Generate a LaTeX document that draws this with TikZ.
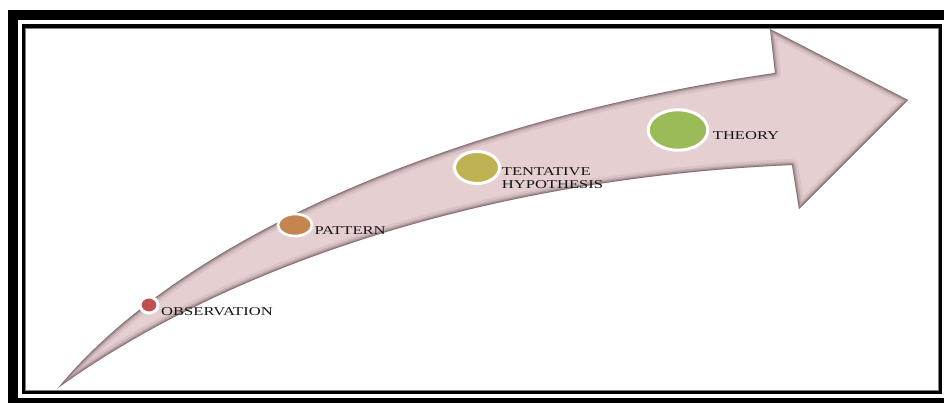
\documentclass[tikz,border=0pt]{standalone}
\usepackage{fontspec}
\usetikzlibrary{shapes.geometric}
\newfontfamily\lbl[FakeStretch=1.38]{Liberation Serif}
\definecolor{arrowpink}{RGB}{230,207,209}
\definecolor{rimshade}{RGB}{70,50,55}
\definecolor{obsred}{RGB}{192,80,77}
\definecolor{patbrown}{RGB}{196,134,78}
\definecolor{tentolive}{RGB}{191,178,82}
\definecolor{theogreen}{RGB}{155,187,89}
\definecolor{labelc}{RGB}{20,20,20}
\begin{document}
\begin{tikzpicture}[x=1pt,y=-1pt,
  arrowshape/.style={insert path={(58,388) .. controls (180,240) and (450,120) .. (775,73)
     -- (770,29) -- (908,100) -- (799,209) -- (792,165)
     .. controls (450,180) and (200,285) .. (58,388) -- cycle}},
  dot/.style={ellipse, draw=white, line width=3pt, inner sep=0pt},
  lab/.style={anchor=base west, inner sep=0pt, text=labelc,
     font=\lbl\fontsize{12}{12.3}\selectfont, align=left}]
\useasboundingbox (0,0) rectangle (944,403);
% frame
\fill[black] (8,10) rectangle (944,403);
\fill[white] (18,20) rectangle (944,398);
\draw[black, line width=3.5pt] (23.5,26) rectangle (940.5,392.5);
\draw[gray, line width=1.2pt] (25.8,28.3) rectangle (938.2,390.2);
% arrow
\path[fill=arrowpink, arrowshape];
\begin{scope}
  \path[clip, arrowshape];
  \path[draw=rimshade, line width=12pt, opacity=0.08, line join=round, arrowshape];
  \path[draw=rimshade, line width=7pt, opacity=0.14, line join=round, arrowshape];
  \path[draw=rimshade, line width=4pt, opacity=0.22, line join=round, arrowshape];
  \path[draw=rimshade, line width=1.6pt, opacity=0.35, line join=round, arrowshape];
\end{scope}
% dots
\node[dot, fill=obsred, minimum width=18pt, minimum height=16pt] (obs) at (149,305) {};
\node[dot, fill=patbrown, minimum width=34pt, minimum height=22pt, line width=2.6pt] (pat) at (295,225) {};
\node[dot, fill=tentolive, minimum width=45pt, minimum height=32pt] (tent) at (477,167.5) {};
\node[dot, fill=theogreen, minimum width=59.6pt, minimum height=40.4pt] (theo) at (678,130) {};
% labels
\node[lab] (obslab) at (161,315) {OBSERVATION};
\node[lab] (patlab) at (314.3,235) {PATTERN};
\node[lab] (tentlab) at (501.7,188.3) {TENTATIVE\\HYPOTHESIS};
\node[lab] (theolab) at (712.7,140) {THEORY};
\end{tikzpicture}
\end{document}
